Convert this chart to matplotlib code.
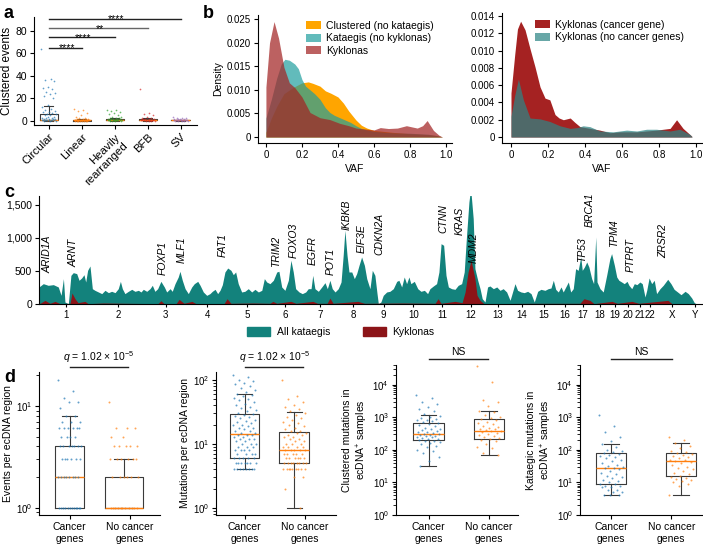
import matplotlib.pyplot as plt
import matplotlib.patches as mpatches
import numpy as np

plt.rcParams['font.family'] = ['Liberation Sans', 'DejaVu Sans']
plt.rcParams['font.size'] = 7
plt.rcParams['mathtext.fontset'] = 'custom'
plt.rcParams['mathtext.rm'] = 'Liberation Sans'
plt.rcParams['mathtext.it'] = 'Liberation Sans:italic'
plt.rcParams['axes.linewidth'] = 0.8

# ---------------- panel a data ----------------
a_cats = ['Circular', 'Linear', 'Heavily\nrearranged', 'BFB', 'SV']
a_colors = ['#1f77b4', '#ff7f0e', '#2ca02c', '#d62728', '#9467bd']
a_points = [
    [64, 37, 36, 35, 30, 29, 28, 26, 25, 24, 22, 20, 14, 12, 11, 10, 9, 8, 8, 7, 6, 6, 5, 5,
     4, 4, 3, 3, 3, 2, 2, 2, 2, 1, 1, 1, 1, 1, 1, 1, 1, 1, 0, 0, 0],
    [11, 10, 9, 7, 5, 4, 3, 3, 2, 2, 2, 2, 1, 1, 1, 1, 1, 1, 1, 1, 1, 1, 1, 1, 1, 1, 1, 1,
     1, 1, 0, 0, 0, 0, 0, 0, 0, 0],
    [10, 10, 9, 8, 7, 6, 5, 4, 4, 3, 3, 3, 2, 2, 2, 2, 2, 1, 1, 1, 1, 1, 1, 1, 1, 1, 1, 1,
     0, 0, 0, 0],
    [28, 7, 6, 5, 4, 3, 3, 2, 2, 2, 2, 1, 1, 1, 1, 1, 1, 1, 1, 0, 0, 0, 0],
    [4, 3, 3, 3, 2, 2, 2, 2, 1, 1, 1, 1, 1, 1, 1, 1, 1, 1, 0, 0, 0, 0, 0],
]
# (q1, median, q3, whisker low, whisker high)
a_box = [(1, 1, 6, 0, 13.5), (0, 1, 1, 0, 2), (1, 1, 2, 0, 3), (1, 1, 2, 0, 3), (1, 1, 1, 0, 1)]
a_sig = [('****', 1, 65), ('****', 2, 74), ('**', 3, 82), ('****', 4, 90.5)]

# ---------------- panel b data ----------------
clu_x = [0, 0.03, 0.06, 0.1, 0.15, 0.2, 0.235, 0.26, 0.3, 0.33, 0.36, 0.4, 0.43, 0.46, 0.5,
         0.53, 0.56, 0.6, 0.65, 0.7, 0.8, 0.9, 0.95, 0.98]
clu_y = [0.001, 0.004, 0.0065, 0.0092, 0.0105, 0.0115, 0.0117, 0.0114, 0.0108, 0.0098, 0.0093,
         0.0085, 0.0072, 0.0055, 0.0036, 0.0025, 0.0019, 0.0014, 0.0012, 0.0010, 0.0007,
         0.0005, 0.0003, 0]
kat_x = [0, 0.03, 0.06, 0.085, 0.105, 0.13, 0.16, 0.18, 0.2, 0.22, 0.245, 0.27, 0.3, 0.33,
         0.355, 0.38, 0.41, 0.44, 0.47, 0.5, 0.53, 0.56, 0.6, 0.7, 0.8, 0.9, 0.95, 0.98]
kat_y = [0.004, 0.008, 0.0125, 0.0155, 0.0165, 0.0163, 0.0155, 0.0145, 0.0122, 0.0108, 0.0100,
         0.0092, 0.0080, 0.0062, 0.0052, 0.0046, 0.0041, 0.0036, 0.0031, 0.0024, 0.0018,
         0.0015, 0.0012, 0.0009, 0.0008, 0.0006, 0.0003, 0]
kyk_x = [0, 0.02, 0.045, 0.07, 0.1, 0.13, 0.16, 0.2, 0.245, 0.3, 0.355, 0.41, 0.46, 0.5, 0.55,
         0.6, 0.635, 0.68, 0.73, 0.78, 0.84, 0.87, 0.895, 0.93, 0.96, 0.98]
kyk_y = [0.0106, 0.020, 0.0245, 0.021, 0.0148, 0.0115, 0.0105, 0.0085, 0.0052, 0.0041, 0.0037,
         0.0029, 0.0024, 0.0019, 0.0017, 0.0015, 0.0020, 0.0018, 0.0019, 0.0024, 0.0019,
         0.0024, 0.0035, 0.0014, 0.0004, 0]

kc_x = [0, 0.02, 0.035, 0.052, 0.076, 0.103, 0.13, 0.157, 0.184, 0.21, 0.238, 0.26, 0.283,
        0.32, 0.345, 0.373, 0.427, 0.48, 0.535, 0.59, 0.68, 0.787, 0.86, 0.895, 0.93, 0.977]
kc_y = [0.0051, 0.0095, 0.0125, 0.0134, 0.0124, 0.0102, 0.0081, 0.0058, 0.0045, 0.0043, 0.0026,
        0.0022, 0.0020, 0.0022, 0.0017, 0.0012, 0.0010, 0.0008, 0.0005, 0.0006, 0.0006,
        0.0008, 0.0010, 0.0020, 0.0010, 0.0001]
kn_x = [0, 0.02, 0.04, 0.067, 0.103, 0.157, 0.21, 0.265, 0.32, 0.36, 0.39, 0.427, 0.48, 0.553,
        0.625, 0.68, 0.733, 0.787, 0.86, 0.913, 0.967, 0.98]
kn_y = [0.0024, 0.0048, 0.0067, 0.0043, 0.0022, 0.0021, 0.0018, 0.0013, 0.0010, 0.0011,
        0.0013, 0.0012, 0.0007, 0.0006, 0.0008, 0.0007, 0.0009, 0.0009, 0.0007, 0.0009,
        0.0003, 0]

# ---------------- panel c data ----------------
chroms = [str(i) for i in range(1, 23)] + ['X', 'Y']
chrom_len = [249, 243, 198, 191, 181, 171, 159, 146, 141, 136, 135, 134, 115, 107, 103, 90,
             81, 78, 59, 63, 48, 51, 155, 59]
all_pos = [0, 20, 43, 67, 90, 103, 114, 121, 137, 149, 160, 176, 187, 199, 210, 218, 227, 238,
           249, 261, 277, 293, 308, 324, 339, 355, 370, 380, 389, 401, 417, 433, 448, 464, 476,
           487, 503, 518, 529, 541, 554, 569, 585, 596, 612, 622, 635, 650, 658, 669, 682, 697,
           713, 725, 741, 752, 767, 783, 798, 809, 822, 834, 845, 856, 868, 881, 896, 907, 918,
           930, 946, 961, 977, 993, 1008, 1024, 1040, 1052, 1063, 1078, 1094, 1110, 1120, 1133,
           1148, 1164, 1176, 1187, 1198, 1214, 1229, 1245, 1257, 1270, 1278, 1288, 1304, 1320,
           1335, 1346, 1358, 1369, 1382, 1397, 1410, 1420, 1428, 1438, 1447, 1460, 1472, 1483,
           1494, 1506, 1519, 1530, 1545, 1556, 1568, 1578, 1584, 1596, 1607, 1623, 1638, 1654,
           1670, 1680, 1693, 1705, 1716, 1727, 1736, 1752, 1768, 1783, 1799, 1814, 1825, 1841,
           1856, 1867, 1877, 1889, 1900, 1911, 1926, 1942, 1957, 1973, 1985, 1996, 2007, 2015,
           2027, 2035, 2048, 2059, 2069, 2082, 2094, 2105, 2121, 2137, 2152, 2167, 2183, 2199,
           2206, 2222, 2234, 2250, 2265, 2281, 2297, 2312, 2328, 2343, 2362, 2377, 2390, 2401,
           2412, 2424, 2437, 2447, 2459, 2471, 2482, 2494, 2505, 2517, 2529, 2536, 2546, 2557,
           2567, 2580, 2589, 2599, 2605, 2619, 2634, 2650, 2665, 2673, 2686, 2697, 2707, 2720,
           2732, 2745, 2754, 2767, 2779, 2791, 2805, 2816, 2829, 2837, 2848, 2860, 2872, 2883,
           2899, 2914, 2935, 2950, 2965, 2981, 2997, 3016, 3031, 3047, 3059, 3070, 3093]
all_cnt = [258, 308, 283, 293, 258, 131, 384, 30, 5, 434, 475, 460, 359, 394, 444, 333, 510, 576,
           232, 207, 182, 157, 207, 172, 192, 172, 232, 343, 232, 157, 192, 222, 192, 207, 182,
           222, 192, 232, 283, 192, 232, 343, 258, 182, 232, 192, 308, 409, 495, 359, 232, 157,
           258, 308, 343, 283, 182, 131, 157, 192, 222, 157, 207, 293, 485, 545, 510, 444, 485,
           308, 182, 192, 232, 182, 222, 182, 207, 384, 333, 308, 359, 485, 495, 258, 207, 359,
           662, 485, 232, 182, 157, 182, 232, 232, 434, 232, 192, 258, 323, 232, 359, 232, 182,
           232, 333, 737, 1116, 737, 485, 485, 384, 460, 586, 712, 586, 384, 232, 510, 434, 157,
           5, 30, 131, 182, 192, 232, 343, 359, 258, 409, 308, 409, 308, 343, 232, 192, 207, 157,
           232, 273, 308, 485, 914, 889, 434, 258, 232, 222, 283, 308, 485, 1040, 1545, 1750,
           1293, 535, 359, 232, 81, 30, 258, 273, 232, 258, 207, 232, 182, 56, 131, 308, 207,
           182, 172, 192, 157, 30, 192, 222, 207, 232, 242, 359, 222, 182, 258, 182, 258, 333,
           182, 232, 535, 510, 712, 510, 560, 636, 560, 384, 308, 1015, 333, 232, 182, 434, 687,
           763, 586, 409, 359, 333, 308, 343, 283, 232, 308, 293, 333, 308, 106, 207, 394, 308,
           359, 157, 232, 283, 374, 308, 222, 182, 141, 192, 157, 91, 20, 0, 0]
kyk_pos = [0, 28, 51, 75, 98, 145, 154, 168, 182, 215, 229, 300, 420, 555, 569, 584, 640, 654,
           677, 714, 733, 864, 878, 896, 1000, 1078, 1092, 1110, 1176, 1200, 1279, 1300, 1345,
           1358, 1373, 1489, 1520, 1700, 1849, 1863, 1877, 1942, 1975, 1989, 2003, 2017, 2035,
           2045, 2059, 2077, 2300, 2525, 2544, 2572, 2591, 2675, 2700, 2768, 2800, 2936, 2955,
           3093]
kyk_cnt = [0, 55, 10, 40, 5, 10, 167, 80, 20, 40, 5, 15, 10, 5, 50, 5, 5, 70, 10, 40, 5, 5, 80,
           10, 15, 10, 40, 10, 40, 10, 40, 10, 10, 90, 10, 40, 10, 15, 10, 80, 10, 40, 20, 180,
           485, 662, 384, 131, 55, 5, 10, 10, 80, 55, 5, 40, 10, 40, 10, 55, 5, 0]
genes = ['ARID1A', 'ARNT', 'FOXP1', 'MLF1', 'FAT1', 'TRIM2', 'FOXO3', 'EGFR', 'POT1', 'IKBKB',
         'EIF3E', 'CDKN2A', 'CTNN', 'KRAS', 'MDM2', 'TP53', 'BRCA1', 'TPM4', 'PTPRT', 'ZRSR2']
gene_pos = [42, 163, 579, 668, 859, 1106, 1190, 1279, 1363, 1438, 1508, 1587, 1886, 1965, 2031,
            2535, 2572, 2684, 2763, 2913]
gene_y = [470, 560, 440, 620, 712, 560, 697, 590, 440, 1121, 773, 742, 1076, 1045, 620, 636,
          1167, 864, 485, 697]

# ---------------- panel d data ----------------
d_ylabels = ['Events per ecDNA region', 'Mutations per ecDNA region',
             'Clustered mutations in\necDNA$^{+}$ samples',
             'Kataegic mutations in\necDNA$^{+}$ samples']
d_tests = [r'$q$ = 1.02 × 10$^{-5}$', r'$q$ = 1.02 × 10$^{-5}$', 'NS', 'NS']
d_cancer = [
    [18, 14, 12, 11, 11, 9.5, 8, 8, 7, 7, 7, 6, 6, 6, 6, 6, 6, 5, 5, 5, 5, 4, 4, 4, 4, 4, 4, 4,
     3, 3, 3, 3, 3, 3, 2, 2, 2, 2, 2, 2, 2, 2, 1, 1, 1, 1, 1, 1, 1, 1, 1, 1, 1, 1],
    [120, 110, 100, 95, 90, 85, 80, 75, 70, 65, 60, 58, 55, 52, 50, 48, 45, 42, 40, 38, 36, 34,
     32, 30, 29, 28, 27, 26, 25, 24, 23, 22, 21, 20, 20, 19, 18, 18, 17, 16, 16, 15, 15, 14, 14,
     14, 13, 13, 12, 12, 12, 11, 11, 10, 10, 10, 9, 9, 9, 8, 8, 8, 8, 7, 7, 7, 7, 6, 6, 6, 6, 6,
     5, 5, 5, 5, 5, 5, 5, 4, 4, 4, 4, 4, 4, 4, 4],
    [4700, 3800, 3000, 2500, 2000, 1800, 1500, 1300, 1100, 1000, 950, 900, 850, 800, 750, 700,
     650, 600, 560, 520, 480, 450, 420, 400, 380, 360, 340, 320, 310, 300, 290, 280, 270, 260,
     250, 240, 230, 220, 210, 200, 190, 180, 170, 160, 150, 130, 120, 100, 90, 80, 60, 45, 33],
    [1150, 550, 350, 250, 180, 150, 120, 100, 90, 85, 80, 75, 70, 65, 60, 55, 50, 45, 40, 35,
     32, 30, 28, 27, 25, 22, 20, 18, 16, 15, 14, 12, 11, 10, 9, 9, 8, 8, 7, 7, 6, 6, 5, 5, 4, 4,
     4],
]
d_nocancer = [
    [11, 6, 6, 6, 5, 5, 4, 4, 4, 4, 4, 3, 3, 3, 3, 3, 3, 2, 2, 2, 2, 2, 2, 1, 1, 1, 1, 1, 1, 1,
     1, 1, 1, 1],
    [100, 55, 50, 45, 40, 38, 35, 32, 30, 28, 26, 25, 24, 22, 21, 20, 19, 18, 17, 16, 16, 15,
     15, 14, 14, 13, 13, 12, 12, 11, 11, 10, 10, 10, 9, 9, 9, 9, 8, 8, 8, 8, 8, 7, 7, 7, 7, 7, 6,
     6, 6, 6, 6, 6, 5, 5, 5, 5, 5, 5, 5, 5, 4, 4, 4, 4, 4, 4, 4, 4, 4, 3, 3, 2, 1],
    [36000, 12000, 3300, 3000, 2200, 1600, 1400, 1200, 1000, 950, 900, 850, 700, 650, 600, 550,
     500, 480, 450, 420, 400, 390, 370, 350, 320, 300, 280, 260, 240, 230, 220, 200, 180, 150,
     120, 110, 80, 70],
    [240, 200, 160, 130, 110, 95, 85, 80, 75, 70, 65, 60, 55, 50, 48, 45, 42, 40, 35, 30, 28, 25,
     22, 20, 18, 16, 15, 14, 13, 12, 11, 10, 9, 8, 4],
]
# (q1, median, q3, whisker low, whisker high) for cancer / no cancer
d_box_cancer = [(1, 2, 4, 1, 8), (6, 14.5, 29, 4, 60), (200, 310, 650, 33, 1150), (9, 27, 80, 4, 150)]
d_box_nocancer = [(1, 1, 2, 1, 3), (5, 8, 15.5, 1, 31), (220, 390, 900, 70, 1600), (16, 45, 80, 4, 160)]

W, H = 703, 544
fig = plt.figure(figsize=(W / 100, H / 100), dpi=100)


def px_axes(l, t, r, b):
    return fig.add_axes([l / W, 1 - b / H, (r - l) / W, (b - t) / H])


def clean(ax):
    for s in ['top', 'right']:
        ax.spines[s].set_visible(False)
    ax.tick_params(length=3, width=0.8, labelsize=7, pad=2)


def jitter(n, spread):
    return ((np.arange(n) * 0.618034) % 1 - 0.5) * spread


def stats(q):
    return dict(q1=q[0], med=q[1], q3=q[2], whislo=q[3], whishi=q[4], fliers=[])


box_kw = dict(showfliers=False, patch_artist=False,
              boxprops=dict(color='#3a3a3a', lw=0.8),
              whiskerprops=dict(color='#3a3a3a', lw=0.8),
              capprops=dict(color='#3a3a3a', lw=0.8),
              medianprops=dict(color='#ff7f0e', lw=1.0))

# ---------------- panel a ----------------
ax = px_axes(34, 17, 197, 125)
clean(ax)
ax.tick_params(labelsize=7.5)
for i, pts in enumerate(a_points):
    ax.scatter(i + jitter(len(pts), 0.45), pts, s=1.5, color=a_colors[i], alpha=0.7, lw=0,
               zorder=3)
ax.bxp([stats(q) for q in a_box], positions=range(5), widths=0.55, **box_kw)
for txt, j, y in a_sig:
    ax.plot([0, j], [y, y], color='#222222' if txt != '**' else '#666666', lw=1.0,
            clip_on=False)
    ax.text(j / 2 + 0.05, y - 3.2, txt, ha='center', va='baseline', fontsize=7.5)
ax.set_xlim(-0.45, 4.5)
ax.set_ylim(-3.5, 92)
ax.set_yticks([0, 20, 40, 60, 80])
ax.set_xticks(range(5))
ax.set_xticklabels(a_cats, rotation=45, ha='right', rotation_mode='anchor', fontsize=8.2)
ax.set_ylabel('Clustered events', fontsize=8.5, labelpad=2)

# ---------------- panel b left ----------------
ax = px_axes(258, 15, 452, 143)
clean(ax)
ax.fill_between(clu_x, clu_y, color='#ffa500', lw=0, label='Clustered (no kataegis)')
ax.fill_between(kat_x, kat_y, color='#1f9e9e', alpha=0.7, lw=0, label='Kataegis (no kyklonas)')
ax.fill_between(kyk_x, kyk_y, color='#a32424', alpha=0.72, lw=0, label='Kyklonas')
ax.set_xlim(-0.044, 1.033)
ax.set_ylim(-0.00127, 0.0259)
ax.set_xticks([0, 0.2, 0.4, 0.6, 0.8, 1.0])
ax.set_xticklabels(['0', '0.2', '0.4', '0.6', '0.8', '1.0'])
ax.set_yticks([0, 0.005, 0.01, 0.015, 0.02, 0.025])
ax.set_yticklabels(['0', '0.005', '0.010', '0.015', '0.020', '0.025'])
ax.set_xlabel('VAF', fontsize=7.5, labelpad=3)
ax.set_ylabel('Density', fontsize=7.5, labelpad=3)
ax.legend(loc='upper left', bbox_to_anchor=(0.2, 1.03), frameon=False, fontsize=7.5,
          handlelength=1.4, handleheight=0.8, labelspacing=0.25, handletextpad=0.5)

# ---------------- panel b right ----------------
ax = px_axes(502, 13, 702, 143)
clean(ax)
ax.fill_between(kc_x, kc_y, color='#a52222', lw=0, label='Kyklonas (cancer gene)')
ax.fill_between(kn_x, kn_y, color='#2e8585', alpha=0.72, lw=0, label='Kyklonas (no cancer genes)')
ax.set_xlim(-0.0486, 1.0324)
ax.set_ylim(-0.00069, 0.01435)
ax.set_xticks([0, 0.2, 0.4, 0.6, 0.8, 1.0])
ax.set_xticklabels(['0', '0.2', '0.4', '0.6', '0.8', '1.0'])
ax.set_yticks(np.arange(0, 0.0141, 0.002))
ax.set_yticklabels(['0', '0.002', '0.004', '0.006', '0.008', '0.010', '0.012', '0.014'])
ax.set_xlabel('VAF', fontsize=7.5, labelpad=3)
ax.legend(loc='upper left', bbox_to_anchor=(0.12, 1.02), frameon=False, fontsize=7.5,
          handlelength=1.4, handleheight=0.8, labelspacing=0.25, handletextpad=0.5)

# ---------------- panel c ----------------
ax = px_axes(39, 196, 702, 304)
clean(ax)
ax.fill_between(all_pos, all_cnt, color='#13827c', lw=0)
ax.fill_between(kyk_pos, kyk_cnt, color='#8c1418', lw=0)
starts = np.concatenate([[0], np.cumsum(chrom_len)[:-1]])
centers = starts + np.array(chrom_len) / 2
ax.set_xticks(centers)
ax.set_xticklabels(chroms, fontsize=7)
ax.tick_params(axis='x', length=2)
ax.set_xlim(0, sum(chrom_len) + 2)
ax.set_ylim(0, 1636)
ax.set_yticks([0, 500, 1000, 1500])
ax.set_yticklabels(['0', '500', '1,000', '1,500'], fontsize=7.5)
for g, x, y in zip(genes, gene_pos, gene_y):
    ax.text(x, y, g, rotation=90, ha='center', va='bottom', fontsize=7.5, style='italic',
            clip_on=False)
fig.legend(handles=[mpatches.Patch(color='#13827c', label='All kataegis'),
                    mpatches.Patch(color='#8c1418', label='Kyklonas')],
           loc='center', bbox_to_anchor=(0.485, 1 - 332 / H), ncol=2, frameon=False,
           fontsize=7.5, handlelength=2.2, handleheight=0.9, columnspacing=3.2,
           handletextpad=0.6)

# ---------------- panel d ----------------
d_rects = [(39, 372, 160, 515), (216, 372, 336, 515), (396, 365, 518, 515), (580, 365, 702, 515)]
d_ylims = [(0.85, 21.5), (0.78, 132), (1, 4e4), (1, 4e4)]
d_xlims = [(-0.57, 1.67), (-0.58, 1.84), (-0.54, 1.48), (-0.45, 1.30)]
d_widths = [(0.54, 0.70), (0.59, 0.6), (0.51, 0.5), (0.43, 0.44)]
d_ticks = [(0, 1.11), (0, 1.21), (0, 1.0), (0, 0.86)]
d_lines = [(0, 1.07), (0, 1.18), (0, 0.98), (0, 0.87)]
d_textx = [0.54, 0.6, 0.49, 0.43]
for k in range(4):
    l, t, r, b = d_rects[k]
    ax = px_axes(l, t, r, b)
    clean(ax)
    ax.set_yscale('log')
    ax.bxp([stats(d_box_cancer[k])], positions=[0], widths=d_widths[k][0], **box_kw)
    ax.bxp([stats(d_box_nocancer[k])], positions=[1], widths=d_widths[k][1], **box_kw)
    pc, pn = d_cancer[k], d_nocancer[k]
    ax.scatter(0 + jitter(len(pc), d_widths[k][0] * 0.8), pc, s=2, color='#1f77b4', alpha=0.7,
               lw=0, zorder=3)
    ax.scatter(1 + jitter(len(pn), d_widths[k][1] * 0.8), pn, s=2, color='#ff7f0e', alpha=0.7,
               lw=0, zorder=3)
    ax.set_xlim(*d_xlims[k])
    ax.set_ylim(*d_ylims[k])
    if k >= 2:
        ax.set_yticks([1, 10, 100, 1000, 10000])
    ax.set_xticks(d_ticks[k])
    ax.set_xticklabels(['Cancer\ngenes', 'No cancer\ngenes'], fontsize=7.5)
    ax.set_ylabel(d_ylabels[k], fontsize=7.5, labelpad=2)
    ly = 1.035 if k < 2 else 1.04
    ax.plot(d_lines[k], [ly, ly], transform=ax.get_xaxis_transform(),
            color='#222222', lw=1.0, clip_on=False)
    ax.text(d_textx[k], ly + 0.015, d_tests[k], transform=ax.get_xaxis_transform(),
            ha='center', va='bottom', fontsize=7.5)

# panel letters
for lab, x, y in [('a', 4, 14), ('b', 203, 14), ('c', 4, 192), ('d', 4, 377)]:
    fig.text(x / W, 1 - y / H, lab, fontsize=13, fontweight='bold', va='center')

fig.savefig('out.png', dpi=100)
